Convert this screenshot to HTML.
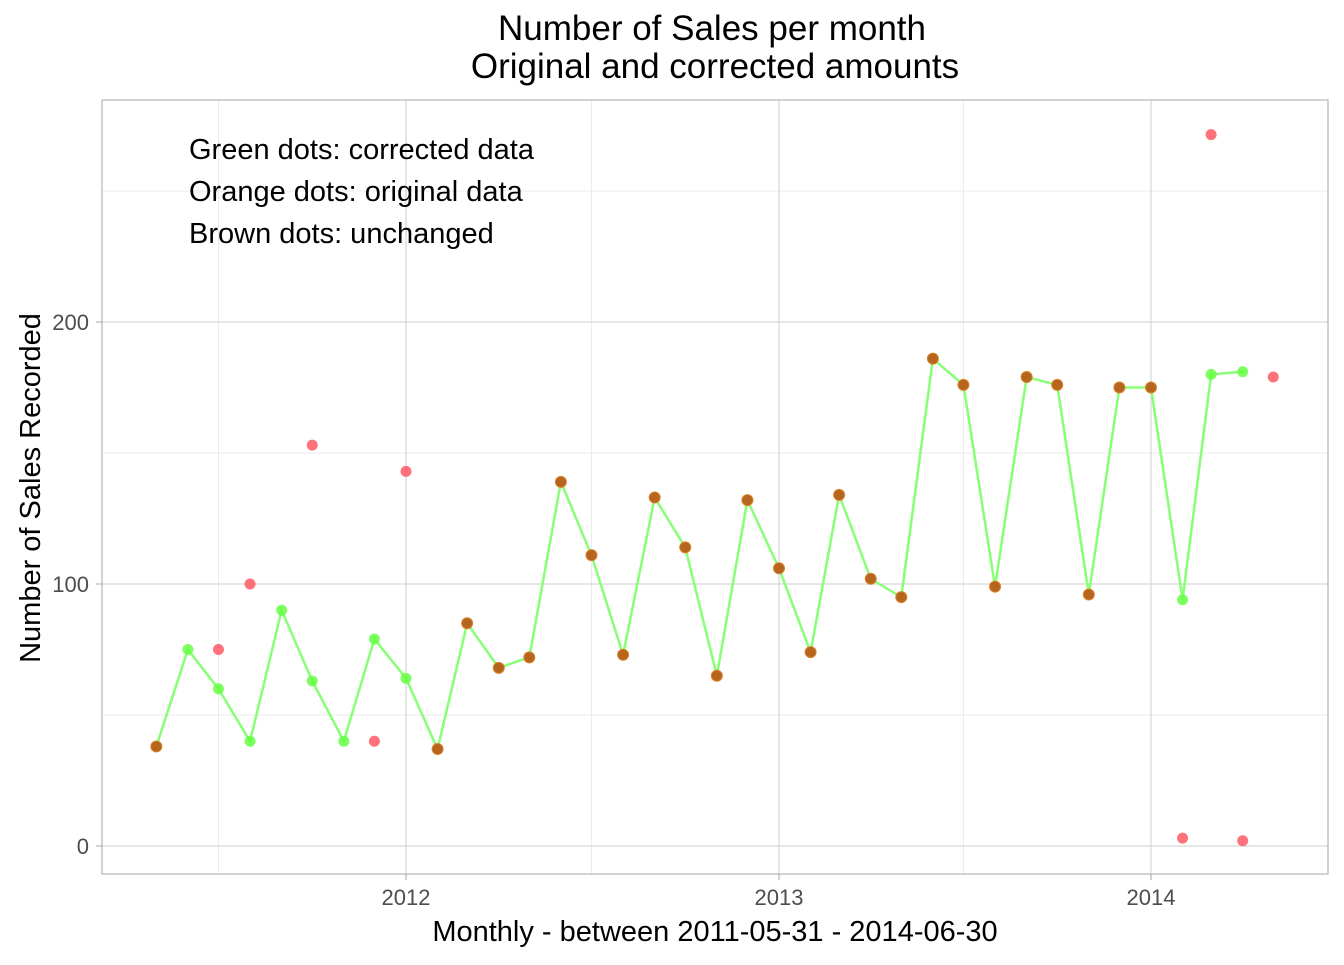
<!DOCTYPE html>
<html><head><meta charset="utf-8"><style>
body{margin:0;background:#fff;font-family:"Liberation Sans",Arial,sans-serif}
svg text{font-family:"Liberation Sans",Arial,sans-serif}
</style></head><body>
<svg id="chart" width="1344" height="960" viewBox="0 0 1344 960" xmlns="http://www.w3.org/2000/svg">
<text x="712" y="40" font-size="35" text-anchor="middle">Number of Sales per month</text>
<text x="715" y="78" font-size="35" text-anchor="middle">Original and corrected amounts</text>
<g id="grid"></g>
<rect x="102" y="100" width="1226" height="774" fill="none" stroke="#b3b3b3" stroke-width="1.2"/>
<g id="marks"></g>
<text x="189" y="159" font-size="29">Green dots: corrected data</text>
<text x="189" y="201" font-size="29">Orange dots: original data</text>
<text x="189" y="243" font-size="29">Brown dots: unchanged</text>
<text x="715" y="941" font-size="29" text-anchor="middle">Monthly - between 2011-05-31 - 2014-06-30</text>
<text transform="translate(40,488) rotate(-90)" font-size="29" text-anchor="middle">Number of Sales Recorded</text>
</svg>
<script>
const months = ["2011-05","2011-06","2011-07","2011-08","2011-09","2011-10","2011-11","2011-12","2012-01","2012-02","2012-03","2012-04","2012-05","2012-06","2012-07","2012-08","2012-09","2012-10","2012-11","2012-12","2013-01","2013-02","2013-03","2013-04","2013-05","2013-06","2013-07","2013-08","2013-09","2013-10","2013-11","2013-12","2014-01","2014-02","2014-03","2014-04","2014-05"];
const corrected = [38,75,60,40,90,63,40,79,64,37,85,68,72,139,111,73,133,114,65,132,106,74,134,102,95,186,176,99,179,176,96,175,175,94,180,181,null];
const original = [38,null,75,100,null,153,null,40,143,37,85,68,72,139,111,73,133,114,65,132,106,74,134,102,95,186,176,99,179,176,96,175,175,3,271.5,2,179];
const yTicks = [0,100,200];
const yMinor = [50,150,250];
const xTicks = ["2012","2013","2014"];

const NS="http://www.w3.org/2000/svg";
const ref=Date.UTC(2012,0,1), DAY=86400000;
function dx(s){const p=s.split("-");return Date.UTC(+p[0],(+p[1]||1)-1,1);}
function x(s){return 406+(dx(s)-ref)/DAY*(373/366);}
function y(v){return 846-v*2.62;}
function mk(tag,attrs,parent){const e=document.createElementNS(NS,tag);for(const k in attrs)e.setAttribute(k,attrs[k]);parent.appendChild(e);return e;}
const grid=document.getElementById('grid'), marks=document.getElementById('marks'), svg=document.getElementById('chart');
yMinor.forEach(v=>{const l=mk('line',{x1:102,x2:1328,y1:y(v),y2:y(v),stroke:'#ebebeb','stroke-width':1},grid);

});
["2011-07","2012-07","2013-07"].forEach(m=>{const l=mk('line',{x1:x(m),x2:x(m),y1:100,y2:874,stroke:'#ebebeb','stroke-width':1},grid);

});
yTicks.forEach(v=>{const l=mk('line',{x1:102,x2:1328,y1:y(v),y2:y(v),stroke:'#d6d6d6','stroke-width':1.2},grid);


const tk=mk('line',{x1:96,x2:102,y1:y(v),y2:y(v),stroke:'#b3b3b3','stroke-width':1.2},grid);


const t=mk('text',{x:89,y:y(v)+8,'font-size':22,fill:'#4d4d4d','text-anchor':'end'},svg);t.textContent=v;

});
xTicks.forEach(v=>{const xx=x(v+"-01");const l=mk('line',{x1:xx,x2:xx,y1:100,y2:874,stroke:'#d6d6d6','stroke-width':1.2},grid);


const tk=mk('line',{x1:xx,x2:xx,y1:874,y2:880,stroke:'#b3b3b3','stroke-width':1.2},grid);


const t=mk('text',{x:xx,y:905,'font-size':22,fill:'#4d4d4d','text-anchor':'middle'},svg);t.textContent=v;

});
let d="";months.forEach((m,i)=>{if(corrected[i]!=null)d+=(d?"L":"M")+x(m)+","+y(corrected[i]);});
const line=mk('path',{d:d,fill:'none',stroke:'#88ff77','stroke-width':2.5},marks);


months.forEach((m,i)=>{const c=corrected[i],o=original[i];
 if(c!=null&&o!=null&&c===o){const p=mk('circle',{cx:x(m),cy:y(c),r:5.5,fill:'#b5651d',stroke:'#d9822b','stroke-width':1},marks);
 
 return;}
 if(c!=null){const p=mk('circle',{cx:x(m),cy:y(c),r:5.5,fill:'#66ff44','fill-opacity':0.85},marks);
 
 }
 if(o!=null){const p=mk('circle',{cx:x(m),cy:y(o),r:5.5,fill:'#ff4d5a','fill-opacity':0.8},marks);
 
 }
});
</script>
</body></html>
